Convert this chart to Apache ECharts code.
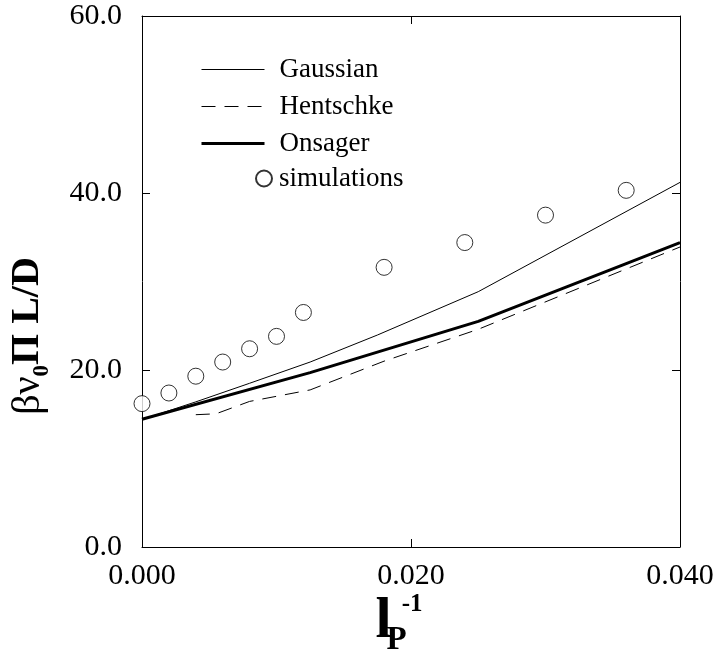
<!DOCTYPE html>
<html>
<head>
<meta charset="utf-8">
<script src="https://cdn.jsdelivr.net/npm/echarts@6/dist/echarts.min.js"></script>
<style>
html,body{margin:0;padding:0;background:#fff;}
#chart{width:717px;height:657px;}
</style>
</head>
<body>
<div id="chart"></div>
<script>
// ---- data ----
var simX = [0, 0.002, 0.004, 0.006, 0.008, 0.010, 0.012, 0.018, 0.024, 0.030, 0.036];
var simY = [16.2, 17.4, 19.3, 20.9, 22.4, 23.8, 26.5, 31.6, 34.4, 37.5, 40.3];

var gaussX = [0, 0.004, 0.008, 0.0125, 0.0175, 0.025, 0.04];
var gaussY = [14.4, 16.4, 18.5, 20.9, 23.95, 28.85, 41.2];

var hentX = [0.004, 0.0055, 0.008, 0.0125, 0.018, 0.025, 0.04];
var hentY = [14.95, 15.05, 16.45, 17.75, 21.0, 24.6, 33.9];

var onsX = [0, 0.0125, 0.025, 0.04];
var onsY = [14.43, 19.7, 25.5, 34.4];

var xTicks = [0, 0.02, 0.04];
var yTicks = [0, 20, 40, 60];

function pairs(xs, ys) { return xs.map(function (x, i) { return [x, ys[i]]; }); }

var FONT = '"Liberation Serif", "Times New Roman", serif';

var chart = echarts.init(document.getElementById('chart'), null, {renderer: 'canvas'});

var axisLine = {show: true, onZero: false, lineStyle: {color: '#000', width: 1}};
var tick = {show: true, inside: true, length: 8, lineStyle: {color: '#000', width: 1}};

var option = {
  animation: false,
  backgroundColor: '#fff',
  grid: {left: 142, right: 37, top: 16, bottom: 110, containLabel: false, outerBoundsMode: 'none'},
  xAxis: [{
    type: 'value', min: xTicks[0], max: xTicks[xTicks.length - 1], interval: xTicks[1] - xTicks[0],
    position: 'bottom',
    axisLine: axisLine,
    axisTick: tick,
    splitLine: {show: false},
    axisLabel: {show: true, margin: 14, fontFamily: FONT, fontSize: 30, color: '#000',
      formatter: function (v) { return v.toFixed(3); }},
    name: '{l|l}{p|P}{s|-1}',
    nameLocation: 'middle',
    nameGap: 46,
    nameMoveOverlap: false,
    nameTextStyle: {
      padding: [0, 24, 0, 0],
      rich: {
        l: {fontFamily: FONT, fontWeight: 'bold', fontSize: 58, lineHeight: 58, color: '#000', verticalAlign: 'middle'},
        p: {fontFamily: FONT, fontWeight: 'bold', fontSize: 33, lineHeight: 33, color: '#000', verticalAlign: 'middle', padding: [37, 0, 0, 0], width: 10},
        s: {fontFamily: FONT, fontWeight: 'bold', fontSize: 25, lineHeight: 25, color: '#000', verticalAlign: 'middle', padding: [0, 0, 34, 0]}
      }
    }
  }, {
    type: 'value', min: xTicks[0], max: xTicks[xTicks.length - 1], interval: xTicks[1] - xTicks[0],
    position: 'top',
    axisLine: axisLine,
    axisTick: tick,
    splitLine: {show: false},
    axisLabel: {show: false}
  }],
  yAxis: [{
    type: 'value', min: yTicks[0], max: yTicks[yTicks.length - 1], interval: yTicks[1] - yTicks[0],
    position: 'left',
    axisLine: axisLine,
    axisTick: tick,
    splitLine: {show: false},
    axisLabel: {show: true, margin: 20, fontFamily: FONT, fontSize: 30, color: '#000',
      formatter: function (v) { return v.toFixed(1); }},
    name: '{g|βν}{sub|0}{b|Π L/D}',
    nameLocation: 'middle',
    nameRotate: 90,
    nameGap: 94,
    nameTextStyle: {
      padding: [0, 109, 0, 0],
      rich: {
        g: {fontFamily: FONT, fontSize: 40, lineHeight: 40, color: '#000', verticalAlign: 'middle'},
        sub: {fontFamily: FONT, fontWeight: 'bold', fontSize: 23, lineHeight: 23, color: '#000', verticalAlign: 'middle', padding: [28, 0, 0, 0]},
        b: {fontFamily: FONT, fontWeight: 'bold', fontSize: 40, lineHeight: 40, color: '#000', verticalAlign: 'middle'}
      }
    }
  }, {
    type: 'value', min: yTicks[0], max: yTicks[yTicks.length - 1], interval: yTicks[1] - yTicks[0],
    position: 'right',
    axisLine: axisLine,
    axisTick: tick,
    splitLine: {show: false},
    axisLabel: {show: false}
  }],
  legend: [{
    data: [
      {name: 'Gaussian', lineStyle: {width: 1, color: '#000'}},
      {name: 'Hentschke', lineStyle: {width: 1, color: '#000', type: [14, 9]}},
      {name: 'Onsager', lineStyle: {width: 3, color: '#000'}}
    ],
    orient: 'vertical', left: 200, top: 56, padding: 0,
    itemWidth: 63, itemHeight: 14, itemGap: 10,
    selectedMode: false,
    itemStyle: {opacity: 0},
    textStyle: {fontFamily: FONT, fontSize: 27, color: '#000', padding: [0, 0, 0, 10]}
  }, {
    data: ['simulations'],
    orient: 'vertical', left: 255, top: 165, padding: 0,
    itemWidth: 16, itemHeight: 16,
    selectedMode: false,
    textStyle: {fontFamily: FONT, fontSize: 27, color: '#000', padding: [0, 0, 0, 2]}
  }],
  series: [{
    name: 'Gaussian', type: 'line', xAxisIndex: 0, yAxisIndex: 0,
    data: pairs(gaussX, gaussY), symbol: 'none', silent: true,
    lineStyle: {color: '#000', width: 1, type: 'solid'}, itemStyle: {color: '#000'}
  }, {
    name: 'Hentschke', type: 'line', xAxisIndex: 0, yAxisIndex: 0,
    data: pairs(hentX, hentY), symbol: 'none', silent: true,
    lineStyle: {color: '#000', width: 1, type: [14, 9]}, itemStyle: {color: '#000'}
  }, {
    name: 'Onsager', type: 'line', xAxisIndex: 0, yAxisIndex: 0,
    data: pairs(onsX, onsY), symbol: 'none', silent: true,
    lineStyle: {color: '#000', width: 3, type: 'solid'}, itemStyle: {color: '#000'}
  }, {
    name: 'simulations', type: 'scatter', xAxisIndex: 0, yAxisIndex: 0,
    data: pairs(simX, simY), symbol: 'circle', symbolSize: 16, silent: true,
    itemStyle: {color: '#fff', borderColor: '#000', borderWidth: 1}
  }]
};
chart.setOption(option);
</script>
</body>
</html>
